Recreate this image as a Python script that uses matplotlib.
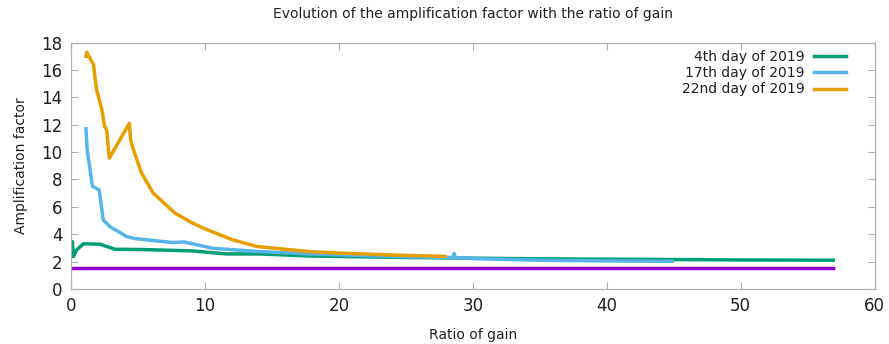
import matplotlib
matplotlib.use("Agg")
import matplotlib.pyplot as plt

# Data
x_day4 = [0.0, 0.1, 0.17, 0.42, 0.92, 2.16, 3.28, 5.4, 9.1, 11.6, 14.1, 17.8, 25.0, 35.0, 45.0, 50.0, 56.9]
y_day4 = [2.6, 3.46, 2.36, 2.85, 3.30, 3.27, 2.90, 2.88, 2.78, 2.56, 2.56, 2.41, 2.30, 2.20, 2.15, 2.12, 2.10]

x_day17 = [1.12, 1.2, 1.6, 2.1, 2.4, 2.9, 4.15, 4.78, 7.6, 8.4, 10.6, 14.1, 17.8, 25.0, 28.5, 28.6, 28.7, 30.0, 35.0, 40.0, 44.9]
y_day17 = [11.7, 10.2, 7.5, 7.24, 5.05, 4.56, 3.83, 3.68, 3.39, 3.44, 2.97, 2.73, 2.56, 2.35, 2.30, 2.60, 2.30, 2.22, 2.10, 2.05, 2.02]

x_day22 = [1.12, 1.17, 1.67, 1.9, 2.3, 2.5, 2.66, 2.86, 4.35, 4.45, 4.65, 5.27, 6.14, 7.76, 9.0, 10.1, 12.1, 13.9, 17.8, 20.0, 25.0, 27.9]
y_day22 = [17.0, 17.3, 16.4, 14.6, 13.1, 11.9, 11.6, 9.56, 12.1, 10.9, 10.2, 8.46, 7.0, 5.54, 4.85, 4.35, 3.58, 3.1, 2.73, 2.62, 2.45, 2.38]

x_ref = [0.0, 56.9]
y_ref = [1.5, 1.5]

labels = ["4th day of 2019", "17th day of 2019", "22nd day of 2019"]
colors = ["#009e73", "#56b4e9", "#e69f00", "#9400d3"]

xticks = [0, 10, 20, 30, 40, 50, 60]
yticks = [0, 2, 4, 6, 8, 10, 12, 14, 16, 18]

plt.rcParams['font.family'] = ['DejaVu Sans']

fig = plt.figure(figsize=(8.89, 3.44), dpi=100)
ax = fig.add_axes([0.0799, 0.16, 0.904, 0.716])

lw = 2.5
ax.plot(x_day4, y_day4, color=colors[0], lw=lw, label=labels[0])
ax.plot(x_day17, y_day17, color=colors[1], lw=lw, label=labels[1])
ax.plot(x_day22, y_day22, color=colors[2], lw=lw, label=labels[2])
ax.plot(x_ref, y_ref, color=colors[3], lw=lw)

ax.set_xlim(0, 60)
ax.set_ylim(0, 18)
ax.set_xticks(xticks)
ax.set_yticks(yticks)
ax.tick_params(direction='in', length=5, width=0.8, colors='#b0b0b0',
               labelcolor='#202020', labelsize=12, top=True, right=True,
               labeltop=False, labelright=False, pad=6)
for s in ax.spines.values():
    s.set_color('#b0b0b0')
    s.set_linewidth(0.9)

ax.set_title("Evolution of the amplification factor with the ratio of gain",
             fontsize=10, color='#202020', pad=18)
ax.set_xlabel("Ratio of gain", fontsize=10, color='#202020', labelpad=9)
ax.set_ylabel("Amplification factor", fontsize=10, color='#202020', labelpad=10)

leg = ax.legend(loc='upper right', frameon=False, markerfirst=False,
                fontsize=10, handlelength=2.3, handletextpad=0.7,
                labelspacing=0.15, borderaxespad=0.5, bbox_to_anchor=(0.98, 1.02))
for t in leg.get_texts():
    t.set_color('#202020')

fig.savefig("out.png", dpi=100)
